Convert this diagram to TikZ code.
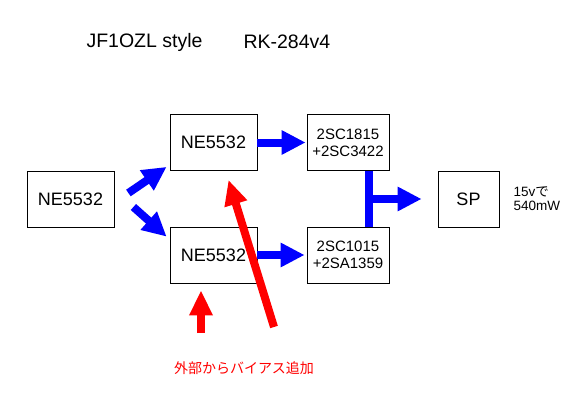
\documentclass[tikz,border=0pt]{standalone}
\usepackage{fontspec}
\setmainfont{Liberation Sans}
\newfontfamily\jpfont{Noto Sans CJK JP}
\usetikzlibrary{arrows.meta}

\begin{document}
\begin{tikzpicture}[x=1pt, y=-1pt,
    box/.style={draw, line width=0.8pt, minimum width=87pt, minimum height=56pt, inner sep=0pt, font=\fontsize{18}{20}\selectfont},
    drvbox/.style={box, minimum width=82pt, align=center, font=\fontsize{15}{17}\selectfont},
    bluearrow/.style={draw=blue, line width=8pt, -{Triangle[length=24pt, width=23pt]}},
    redarrow/.style={draw=red, line width=8pt, -{Triangle[length=25pt, width=22pt]}}]
    \useasboundingbox (0,0) rectangle (566,407);

    % title
    \node[anchor=west, font=\fontsize{19.5}{22}\selectfont] (title) at (83,42) {JF1OZL style};
    \node[anchor=west, font=\fontsize{19.5}{22}\selectfont] (model) at (240,42) {RK-284v4};

    % blocks
    \node[box] (neIn) at (70.5,199) {NE5532};
    \node[box] (neT) at (213.5,142.5) {NE5532};
    \node[box] (neB) at (213.5,255) {NE5532};
    \node[drvbox] (drvT) at (348,142.5) {2SC1815\\+2SC3422};
    \node[drvbox] (drvB) at (348,255) {2SC1015\\+2SA1359};
    \node[box, minimum width=61pt] (sp) at (468.5,199) {SP};
    \node[anchor=west, align=left, font=\fontsize{13.5}{14}\selectfont] (spec) at (510,199) {15v{\jpfont で}\\540mW};

    % signal arrows
    \draw[bluearrow] ([shift={(14,-6)}]neIn.east) -- ([shift={(-3,-4)}]neT.south west);
    \draw[bluearrow] ([shift={(19,8)}]neIn.east) -- ([shift={(-3,10)}]neB.north west);
    \draw[bluearrow] (neT.east) -- ([xshift=-1pt]drvT.west);
    \draw[bluearrow] (neB.east) -- ([xshift=-2pt]drvB.west);
    \draw[draw=blue, line width=8pt] ([xshift=21pt]drvT.south) -- ([xshift=21pt]drvB.north);
    \coordinate (junc) at ([xshift=17pt]drvT.south |- sp.west);
    \draw[bluearrow] (junc) -- ([xshift=-16pt]sp.west);

    % bias injection
    \coordinate (biasA) at (274,327);
    \coordinate (biasB) at (201,333);
    \draw[redarrow] (biasA) -- ([shift={(15,9)}]neT.south);
    \draw[redarrow] (biasB) -- ([shift={(-12.5,7)}]neB.south);
    \node[text=red, font=\jpfont\fontsize{14}{16}\selectfont] (bias) at (244,368) {外部からバイアス追加};
\end{tikzpicture}
\end{document}
